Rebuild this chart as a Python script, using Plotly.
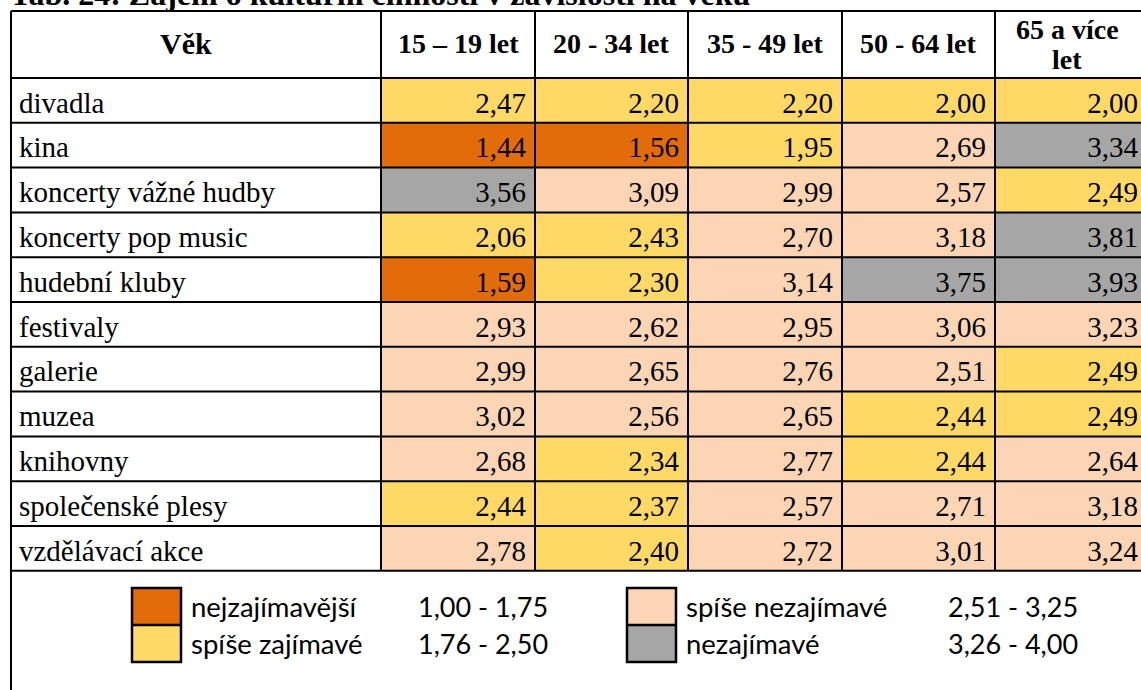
import plotly.graph_objects as go

activities = ["divadla", "kina", "koncerty vážné hudby", "koncerty pop music",
              "hudební kluby", "festivaly", "galerie", "muzea", "knihovny",
              "společenské plesy", "vzdělávací akce"]
age_groups = ["15 – 19 let", "20 - 34 let", "35 - 49 let", "50 - 64 let", "65 a více let"]

age_15_19 = [2.47, 1.44, 3.56, 2.06, 1.59, 2.93, 2.99, 3.02, 2.68, 2.44, 2.78]
age_20_34 = [2.20, 1.56, 3.09, 2.43, 2.30, 2.62, 2.65, 2.56, 2.34, 2.37, 2.40]
age_35_49 = [2.20, 1.95, 2.99, 2.70, 3.14, 2.95, 2.76, 2.65, 2.77, 2.57, 2.72]
age_50_64 = [2.00, 2.69, 2.57, 3.18, 3.75, 3.06, 2.51, 2.44, 2.44, 2.71, 3.01]
age_65_up = [2.00, 3.34, 2.49, 3.81, 3.93, 3.23, 2.49, 2.49, 2.64, 3.18, 3.24]

thresholds = [1.75, 2.50, 3.25]
legend_labels = ["nejzajímavější", "spíše zajímavé", "spíše nezajímavé", "nezajímavé"]
legend_ranges = ["1,00 - 1,75", "1,76 - 2,50", "2,51 - 3,25", "3,26 - 4,00"]
title = "Tab. 24: Zájem o kulturní činnosti v závislosti na věku"

colors = ["#E26B0A", "#FFD966", "#FCD5B4", "#A6A6A6"]
serif = "Liberation Serif"
sans = "Lato"

# one axis unit = one pixel of the window (body margin is removed below)
W, H = 1141, 690
col_edges = [11, 381, 535, 688, 842, 995, 1147]
row_h = 44.8
head_top, head_bot = 11, 78
row_edges = [head_top] + [head_bot + i * row_h for i in range(len(activities) + 1)]
table_bottom = row_edges[-1]


def category(v):
    c = 0
    for t in thresholds:
        if v > t:
            c += 1
    return c


columns = [age_15_19, age_20_34, age_35_49, age_50_64, age_65_up]
z = [[category(col[r]) for col in columns] for r in range(len(activities))]

scale = []
for i, c in enumerate(colors):
    scale.append([i / 4, c])
    scale.append([(i + 1) / 4, c])

fig = go.Figure()

# coloured value cells
fig.add_trace(go.Heatmap(
    z=z, x=col_edges[1:], y=row_edges[1:],
    colorscale=scale, zmin=-0.5, zmax=3.5, showscale=False, hoverinfo="skip"))

# legend swatches
sw_x = [[132, 181], [627, 676]]
sw_y = [588, 625, 662]
for k in range(2):
    fig.add_trace(go.Heatmap(
        z=[[2 * k], [2 * k + 1]], x=sw_x[k], y=sw_y,
        colorscale=scale, zmin=-0.5, zmax=3.5, showscale=False, hoverinfo="skip"))

# values
vx, vy, vt = [], [], []
for ci, col in enumerate(columns):
    for r, v in enumerate(col):
        vx.append(col_edges[ci + 2] - 9)
        vy.append((row_edges[r + 1] + row_edges[r + 2]) / 2 + 5)
        vt.append(f"{v:.2f}".replace(".", ","))
fig.add_trace(go.Scatter(x=vx, y=vy, text=vt, mode="text", textposition="middle left",
                         textfont=dict(family=serif, size=29, color="black"), hoverinfo="skip"))

# row labels
fig.add_trace(go.Scatter(
    x=[19] * len(activities),
    y=[(row_edges[r + 1] + row_edges[r + 2]) / 2 + 5 for r in range(len(activities))],
    text=activities, mode="text", textposition="middle right",
    textfont=dict(family=serif, size=29, color="black"), hoverinfo="skip"))

# header
head_mid = (head_top + head_bot) / 2
fig.add_annotation(x=186, y=head_mid - 1, text="<b>Věk</b>",
                   showarrow=False, font=dict(family=serif, size=30, color="black"))
for i, g in enumerate(age_groups):
    cx = (col_edges[i + 1] + col_edges[i + 2]) / 2
    if i == len(age_groups) - 1:
        fig.add_annotation(x=cx - 4, y=head_mid - 15, text="<b>65 a více</b>", showarrow=False,
                           font=dict(family=serif, size=28, color="black"))
        fig.add_annotation(x=cx - 4, y=head_mid + 15, text="<b>let</b>", showarrow=False,
                           font=dict(family=serif, size=28, color="black"))
    else:
        fig.add_annotation(x=cx, y=head_mid - 1, text=f"<b>{g}</b>", showarrow=False,
                           font=dict(family=serif, size=28, color="black"))

# legend text
leg_text_x = [189, 684]
leg_range_x = [416, 946]
for i in range(4):
    k, j = divmod(i, 2)
    yc = (sw_y[j] + sw_y[j + 1]) / 2
    fig.add_annotation(x=leg_text_x[k], y=yc, text=legend_labels[i], showarrow=False,
                       xanchor="left", font=dict(family=sans, size=27.5, color="black"))
    fig.add_annotation(x=leg_range_x[k], y=yc, text=legend_ranges[i], showarrow=False,
                       xanchor="left", font=dict(family=sans, size=27, color="black"))

# title, cut off by the top edge of the window
fig.add_annotation(x=8 / W, y=1 + 6.5 / H, xref="paper", yref="paper",
                   text=f"<b>{title}</b>", showarrow=False, xanchor="left", yanchor="middle",
                   font=dict(family=serif, size=32, color="black"))

# grid lines
line = dict(color="black", width=2)
for y in row_edges:
    fig.add_shape(type="line", x0=col_edges[0], x1=col_edges[-1] + 10, y0=y, y1=y, line=line, layer="above")
fig.add_shape(type="line", x0=col_edges[0], x1=col_edges[0], y0=head_top, y1=H + 20, line=line, layer="above")
for x in col_edges[1:]:
    fig.add_shape(type="line", x0=x, x1=x, y0=head_top, y1=table_bottom, line=line, layer="above")
for k in range(2):
    fig.add_shape(type="rect", x0=sw_x[k][0], x1=sw_x[k][1], y0=sw_y[0], y1=sw_y[2],
                  line=dict(color="black", width=2.5), layer="above")
    fig.add_shape(type="line", x0=sw_x[k][0], x1=sw_x[k][1], y0=sw_y[1], y1=sw_y[1],
                  line=dict(color="black", width=2.5), layer="above")

fig.update_xaxes(range=[0, W], visible=False, fixedrange=True)
fig.update_yaxes(range=[H, 0], visible=False, fixedrange=True)
fig.update_layout(width=W, height=H, margin=dict(l=0, r=0, t=0, b=0),
                  plot_bgcolor="white", paper_bgcolor="white", showlegend=False)
fig.write_html("out.html", config={"displayModeBar": False},
               post_script="document.body.style.margin='0';document.body.style.overflow='hidden';")
